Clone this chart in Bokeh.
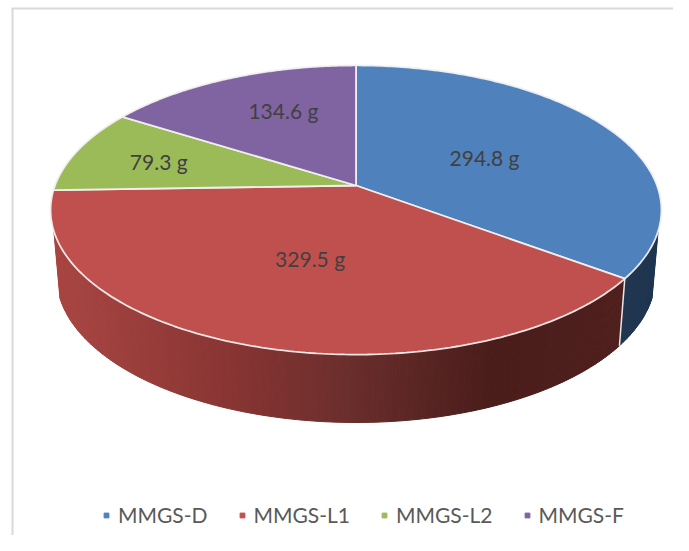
import numpy as np
from bokeh.embed import file_html
from bokeh.resources import INLINE
from bokeh.plotting import figure
from bokeh.models import Legend, LegendItem
from bokeh.core.properties import value

labels = ["MMGS-D", "MMGS-L1", "MMGS-L2", "MMGS-F"]
grams = [294.8, 329.5, 79.3, 134.6]
colors = ["#4f81bd", "#c0504d", "#9bbb59", "#8064a2"]
value_text = [f"{g} g" for g in grams]

# layout of the tilted pie (screen pixels)
CX, CY, A, B, K = 355.5, 185.0, 301.0, 140.4, 0.1696
CY2, A2, B2 = 251.0, 295.0, 142.0
WALL_FROM, WALL_TO = 108.0, 252.0
label_frac = [0.5, 0.5, 0.7, 0.62]
label_nudge = [(-1, 2), (3, 0), (0, 1), (10, -5)]


def top(theta, r=1.0):
    t = np.radians(theta)
    d = 1 + K * r * np.cos(t)
    return CX + A * r * np.sin(t) / d, CY - B * r * np.cos(t) / d


def low(theta):
    t = np.radians(theta)
    d = 1 + K * np.cos(t)
    return CX + A2 * np.sin(t) / d, CY2 - B2 * np.cos(t) / d


def wall_color(base, x):
    stops_x = [50, 230, 350, 490, 660]
    if base == "#4f81bd":
        return "#1f3550"
    r = np.interp(x, stops_x, [170, 136, 106, 74, 80])
    g = np.interp(x, stops_x, [70, 53, 46, 29, 32])
    b = np.interp(x, stops_x, [67, 51, 44, 27, 30])
    return "#%02x%02x%02x" % (int(r), int(g), int(b))


W, H = 673, 535
p = figure(width=W, height=H, x_range=(0, W), y_range=(H, 0),
           toolbar_location=None, output_backend="svg", min_border=0,
           outline_line_color=None, background_fill_color="white")
p.xaxis.visible = False
p.yaxis.visible = False
p.grid.visible = False

# frame
p.line([12, 12], [8, H], line_color="#d9d9d9", line_width=2)
p.line([11, W], [8, 8], line_color="#d9d9d9", line_width=2)

cum = np.concatenate([[0], np.cumsum(grams)]) / sum(grams) * 360

# side wall
xs, ys, cs = [], [], []
for i, c in enumerate(colors):
    a0, a1 = max(cum[i], WALL_FROM), min(cum[i + 1], WALL_TO)
    if a1 <= a0:
        continue
    n = max(2, int((a1 - a0) / 0.6))
    th = np.linspace(a0, a1, n + 1)
    for t0, t1 in zip(th[:-1], th[1:]):
        ux, uy = top(np.array([t0, t1]))
        lx, ly = low(np.array([t1, t0]))
        xs.append(list(ux) + list(lx))
        ys.append(list(uy) + list(ly))
        cs.append(wall_color(c, ux.mean()))
p.patches(xs, ys, fill_color=cs, line_color=cs, line_width=1)

# separator on the wall between slices
for edge in cum[1:]:
    if WALL_FROM < edge < WALL_TO:
        ux, uy = top(edge)
        lx, ly = low(edge)
        p.line([ux, lx], [uy, ly], line_color="#e8e8e8", line_width=1.5)

# top faces
for i, c in enumerate(colors):
    th = np.linspace(cum[i], cum[i + 1], 160)
    x, y = top(th)
    p.patch(np.r_[CX, x], np.r_[CY, y], fill_color=c, line_color="#f2f0f0",
            line_width=1.8, line_alpha=0.95)

# value labels
mids = (cum[:-1] + cum[1:]) / 2
lx, ly = top(mids, np.array(label_frac))
lx = lx + np.array([n[0] for n in label_nudge])
ly = ly + np.array([n[1] for n in label_nudge])
p.text(lx, ly, text=value_text, text_align="center", text_baseline="middle",
       text_font=value("Lato"), text_font_size="21px", text_color="#404040")

# legend
items = []
for lab, c in zip(labels, colors):
    r = p.scatter([-100], [-100], marker="square", size=8, color=c)
    items.append(LegendItem(label=lab, renderers=[r]))
leg = Legend(items=items, orientation="horizontal", location=(100, 8),
             background_fill_alpha=0, border_line_color=None,
             label_text_font="Lato", label_text_font_size="21px",
             label_text_color="#595959", glyph_width=12, glyph_height=12,
             label_standoff=6, spacing=28, padding=4, margin=0)
p.add_layout(leg, "center")

open("out.html", "w").write(file_html(p, INLINE))
